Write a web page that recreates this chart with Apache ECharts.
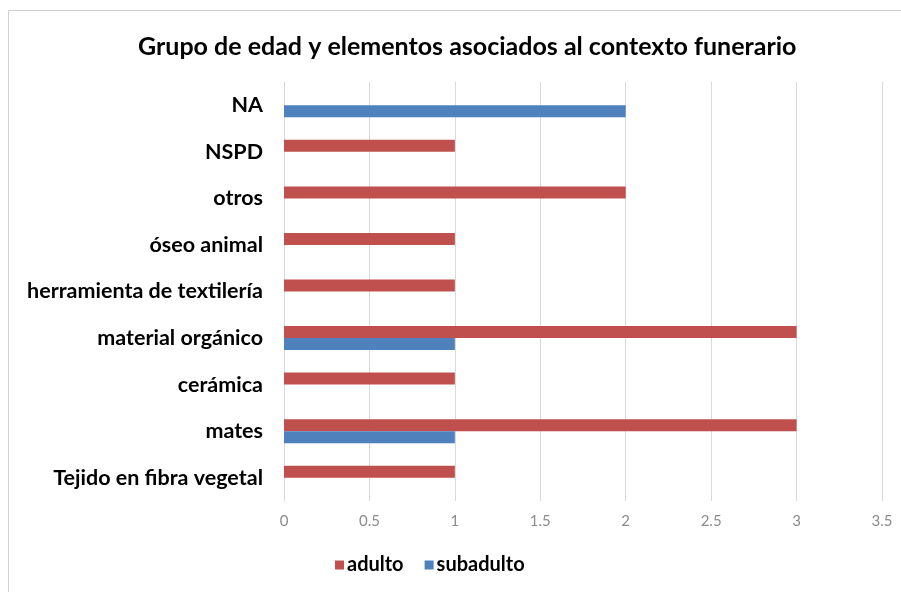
<!DOCTYPE html>
<html>
<head>
<meta charset="utf-8">
<script src="https://cdn.jsdelivr.net/npm/echarts@6/dist/echarts.min.js"></script>
<style>html,body{margin:0;padding:0;background:#fff;}#c{width:901px;height:592px;}</style>
</head>
<body>
<div id="c"></div>
<script>
// categories listed bottom to top
const categories = ['Tejido en fibra vegetal', 'mates', 'cerámica', 'material orgánico', 'herramienta de textilería', 'óseo animal', 'otros', 'NSPD', 'NA'];
const adulto = [1, 3, 1, 3, 1, 1, 2, 1, null];
const subadulto = [null, 1, null, 1, null, null, null, null, 2];
const xTicks = [0, 0.5, 1, 1.5, 2, 2.5, 3, 3.5];
const seriesNames = ['adulto', 'subadulto'];

const chart = echarts.init(document.getElementById('c'));
chart.setOption({
  animation: false,
  backgroundColor: '#ffffff',
  title: {
    text: 'Grupo de edad y elementos asociados al contexto funerario',
    left: 133,
    top: 29,
    textStyle: { fontFamily: 'Lato', fontWeight: 'bold', fontSize: 25, color: '#000' }
  },
  legend: {
    data: seriesNames,
    left: 330,
    top: 550,
    icon: 'rect',
    itemWidth: 9,
    itemHeight: 9,
    itemGap: 21,
    textStyle: { fontFamily: 'Lato', fontWeight: 'bold', fontSize: 20, color: '#000', padding: [0, 0, 0, -2] }
  },
  grid: { left: 284, right: 19, top: 82, bottom: 91, containLabel: false },
  xAxis: {
    type: 'value',
    min: 0,
    max: 3.5,
    interval: 0.5,
    axisLine: { show: false },
    axisTick: { show: false },
    splitLine: { show: true, lineStyle: { color: '#d9d9d9', width: 1 } },
    axisLabel: {
      color: '#8c8c8c', fontFamily: 'Lato', fontSize: 15, margin: 13,
      formatter: v => String(xTicks.find(t => Math.abs(t - v) < 1e-9) ?? v)
    }
  },
  yAxis: {
    type: 'category',
    data: categories,
    axisLine: { show: true, lineStyle: { color: '#d9d9d9' } },
    axisTick: { show: false },
    axisLabel: { color: '#000', fontFamily: 'Lato', fontWeight: 'bold', fontSize: 21.5, margin: 21 }
  },
  graphic: [
    { type: 'line', shape: { x1: 8.5, y1: 10.5, x2: 901, y2: 10.5 }, style: { stroke: '#d0d0d0', lineWidth: 1 } },
    { type: 'line', shape: { x1: 8.5, y1: 10.5, x2: 8.5, y2: 592 }, style: { stroke: '#d0d0d0', lineWidth: 1 } }
  ],
  series: [
    { name: 'adulto', type: 'bar', data: adulto, barWidth: 12, barGap: '0%', itemStyle: { color: '#C0504D' } },
    { name: 'subadulto', type: 'bar', data: subadulto, barWidth: 12, barGap: '0%', itemStyle: { color: '#4F81BD' } }
  ]
});
</script>
</body>
</html>
